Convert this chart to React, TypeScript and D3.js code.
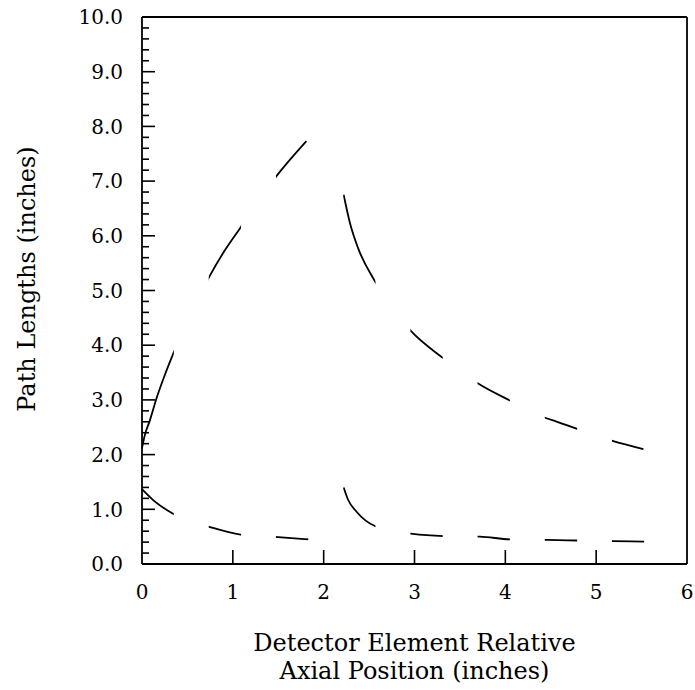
import React from "react";
import * as d3 from "d3";

// Curves (x in inches, path length in inches)
const curveRisingLeft: [number, number][] = [
  [0, 2.12], [0.03, 2.35], [0.088, 2.63], [0.154, 3.0], [0.25, 3.45], [0.345, 3.85],
  [0.74, 5.25], [0.914, 5.74], [1.08, 6.14], [1.48, 7.09], [1.81, 7.73],
];
const curveFallingUpper: [number, number][] = [
  [2.22, 6.75], [2.29, 6.23], [2.38, 5.77], [2.56, 5.18], [2.96, 4.26], [3.31, 3.77],
  [3.7, 3.3], [4.05, 2.99], [4.46, 2.66], [4.57, 2.6], [4.79, 2.47], [5.18, 2.25], [5.52, 2.1],
];
const curveLowerLeft: [number, number][] = [
  [0, 1.37], [0.143, 1.14], [0.352, 0.91], [0.76, 0.67], [1.11, 0.53], [1.5, 0.49], [1.84, 0.45],
];
const curveLowerRight: [number, number][] = [
  [2.22, 1.4], [2.27, 1.17], [2.36, 0.96], [2.57, 0.69], [2.98, 0.55], [3.32, 0.51],
  [3.72, 0.5], [4.05, 0.45], [4.46, 0.44], [4.79, 0.43], [5.19, 0.42], [5.53, 0.41],
];
const curves = [curveRisingLeft, curveFallingUpper, curveLowerLeft, curveLowerRight];

const xTicks = [0, 1, 2, 3, 4, 5, 6];
const yTicks = [0, 1, 2, 3, 4, 5, 6, 7, 8, 9, 10];
const yMinorTicks = d3.range(0, 50).map((i) => i * 0.2).filter((v) => Math.abs(v - Math.round(v)) > 1e-6);

const xTitleLines = ["Detector Element Relative", "Axial Position (inches)"];
const yTitle = "Path Lengths (inches)";

// dash pattern of the plotter, in x units
const dashPeriod = 0.74;
const dashOn = 0.345;

export default function App() {
  const W = 695;
  const H = 690;
  const x = d3.scaleLinear().domain([0, 6]).range([142, 687]);
  const y = d3.scaleLinear().domain([0, 10]).range([564, 17]);
  const line = d3
    .line<[number, number]>()
    .x((d) => x(d[0]))
    .y((d) => y(d[1]))
    .curve(d3.curveMonotoneX);

  const dashStarts = d3.range(0, 8).map((k) => k * dashPeriod);
  const font = "'DejaVu Serif', serif";

  return (
    <svg
      width={W}
      height={H}
      style={{ position: "absolute", left: 0, top: 0, background: "#fff" }}
    >
      <defs>
        <clipPath id="dashclip">
          {dashStarts.map((s, i) => (
            <rect key={i} x={x(s) - 0.5} y={0} width={x(s + dashOn) - x(s) + 1} height={H} />
          ))}
        </clipPath>
      </defs>
      <rect width={W} height={H} fill="#fff" />

      {/* frame */}
      <g stroke="#000" fill="none" strokeWidth={1.8}>
        <line x1={x(0)} x2={x(6)} y1={y(0)} y2={y(0)} />
        <line x1={x(0)} x2={x(0)} y1={y(0)} y2={y(10)} />
        <line x1={x(0)} x2={x(6)} y1={y(10)} y2={y(10)} />
        <line x1={x(6)} x2={x(6)} y1={y(0)} y2={y(10)} />
      </g>

      {/* y ticks */}
      <g stroke="#000" strokeWidth={1.6}>
        {yTicks.map((t) => (
          <line key={t} x1={x(0)} x2={x(0) + 13} y1={y(t)} y2={y(t)} />
        ))}
        {yMinorTicks.map((t) => (
          <line key={"m" + t} x1={x(0)} x2={x(0) + 7} y1={y(t)} y2={y(t)} />
        ))}
      </g>
      <g fontFamily={font} fontSize={20} fill="#000" textAnchor="end">
        {yTicks.map((t) => (
          <text key={t} x={123} y={y(t)} dy="0.36em">
            {t.toFixed(1)}
          </text>
        ))}
      </g>

      {/* x ticks */}
      <g stroke="#000" strokeWidth={1.6}>
        {xTicks.slice(1, -1).map((t) => (
          <line key={t} x1={x(t)} x2={x(t)} y1={y(0)} y2={y(0) - 14} />
        ))}
      </g>
      <g fontFamily={font} fontSize={20} fill="#000" textAnchor="middle">
        {xTicks.map((t) => (
          <text key={t} x={x(t)} y={599}>
            {t}
          </text>
        ))}
      </g>

      {/* axis titles */}
      <g fontFamily={font} fontSize={24} fill="#000" textAnchor="middle">
        {xTitleLines.map((s, i) => (
          <text key={i} x={x(3)} y={651 + i * 28}>
            {s}
          </text>
        ))}
      </g>
      <text
        fontFamily={font}
        fontSize={24}
        fill="#000"
        textAnchor="middle"
        transform={`translate(35, 279) rotate(-90)`}
      >
        {yTitle}
      </text>

      {/* curves */}
      <g clipPath="url(#dashclip)" fill="none" stroke="#000" strokeWidth={1.8}>
        {curves.map((c, i) => (
          <path key={i} d={line(c) || ""} />
        ))}
      </g>
    </svg>
  );
}
